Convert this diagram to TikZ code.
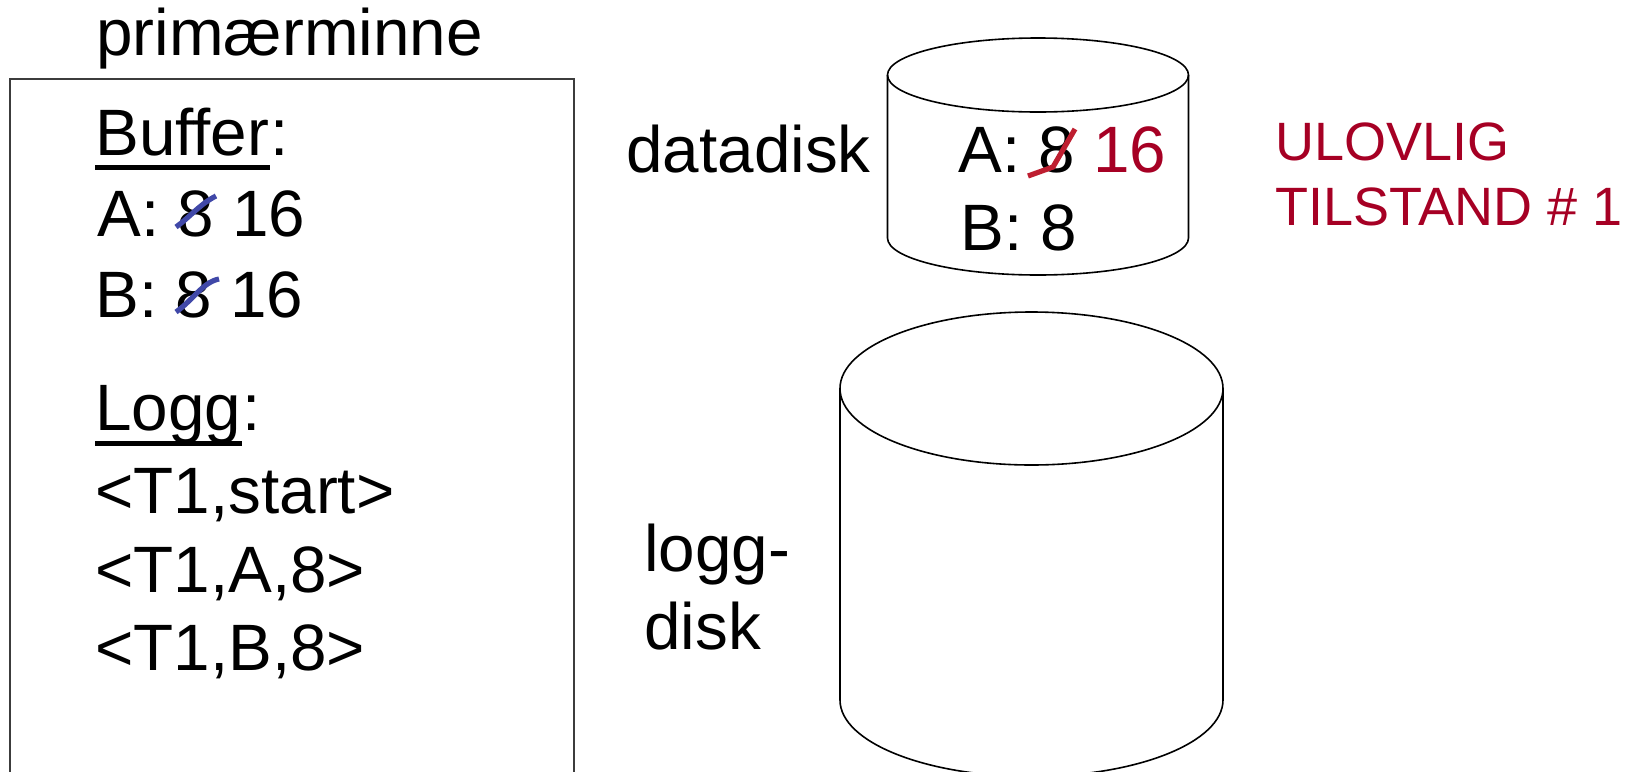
\documentclass[tikz,border=0pt]{standalone}
\usepackage{fontspec}
\setmainfont{Liberation Sans}
\usetikzlibrary{calc}
\definecolor{strikeblue}{RGB}{64,72,168}
\definecolor{alertred}{RGB}{166,0,36}
\definecolor{strikered}{RGB}{190,30,48}
\definecolor{framegray}{RGB}{60,60,60}
\begin{document}
\begin{tikzpicture}[x=0.5pt,y=-0.5pt,
  txt/.style={inner sep=0pt, anchor=base west, font=\fontsize{32.8pt}{39pt}\selectfont},
  redtxt/.style={txt, text=alertred, font=\fontsize{27pt}{32pt}\selectfont},
  cyl/.style={draw=black, line width=0.8pt},
  ul/.style={line width=2.5pt},
  strikeb/.style={draw=strikeblue, line width=2.6pt},
  striker/.style={draw=strikered, line width=2.6pt, line join=miter}]
\clip (0,0) rectangle (1630,772);

% main memory frame (runs off the bottom)
\draw[framegray, line width=1pt] (9.5,800) -- (9.5,79) -- (574,79) -- (574,800);
\node[txt] (mem) at (96,55) {primærminne};

% buffer contents
\node[txt] (buf) at (95,155) {Buffer};
\node[txt] (bufc) at (buf.base east) {:};
\draw[ul] ($(buf.base west)+(0,12)$) -- ($(buf.base east)+(0,12)$);
\node[txt] (bufA) at (97,236) {A: 8 16};
\node[txt] (bufB) at (95,317) {B: 8 16};
\draw[strikeb] (176,227) .. controls (190,217) and (200,204) .. (216,196);
\draw[strikeb] (176,312) .. controls (193,300) and (203,282) .. (219,279);

% log contents
\node[txt] (logg) at (95,430) {Logg};
\node[txt] (loggc) at (logg.base east) {:};
\draw[ul] ($(logg.base west)+(0,13)$) -- ($(logg.base east)+(0,13)$);
\node[txt] (l1) at (95,513) {<T1,start>};
\node[txt] (l2) at (95,592) {<T1,A,8>};
\node[txt] (l3) at (95,670) {<T1,B,8>};

% data disk
\draw[cyl] (1038,75) ellipse [x radius=150.5, y radius=37];
\draw[cyl] (887.5,75) -- (887.5,238)
  .. controls (887.5,258.4) and (954.9,275) .. (1038,275)
  .. controls (1121.1,275) and (1188.5,258.4) .. (1188.5,238)
  -- (1188.5,75);
\node[txt] (dlabel) at (626,172) {datadisk};
\node[txt] (dA) at (958,172) {A: 8 \textcolor{alertred}{16}};
\node[txt] (dB) at (960,250) {B: 8};
\draw[striker] (1028,176) -- (1053,167) -- (1075,129);

% warning
\node[redtxt] (warn1) at (1275,160) {ULOVLIG};
\node[redtxt] (warn2) at (1275,225) {TILSTAND \# 1};

% log disk
\draw[cyl] (1031.5,388.5) ellipse [x radius=191.5, y radius=76.5];
\draw[cyl] (840,388.5) -- (840,700)
  .. controls (840,742.2) and (925.7,776.5) .. (1031.5,776.5)
  .. controls (1137.3,776.5) and (1223,742.2) .. (1223,700)
  -- (1223,388.5);
\node[txt] (llabel1) at (644,571) {logg-};
\node[txt] (llabel2) at (644,649) {disk};
\end{tikzpicture}
\end{document}
